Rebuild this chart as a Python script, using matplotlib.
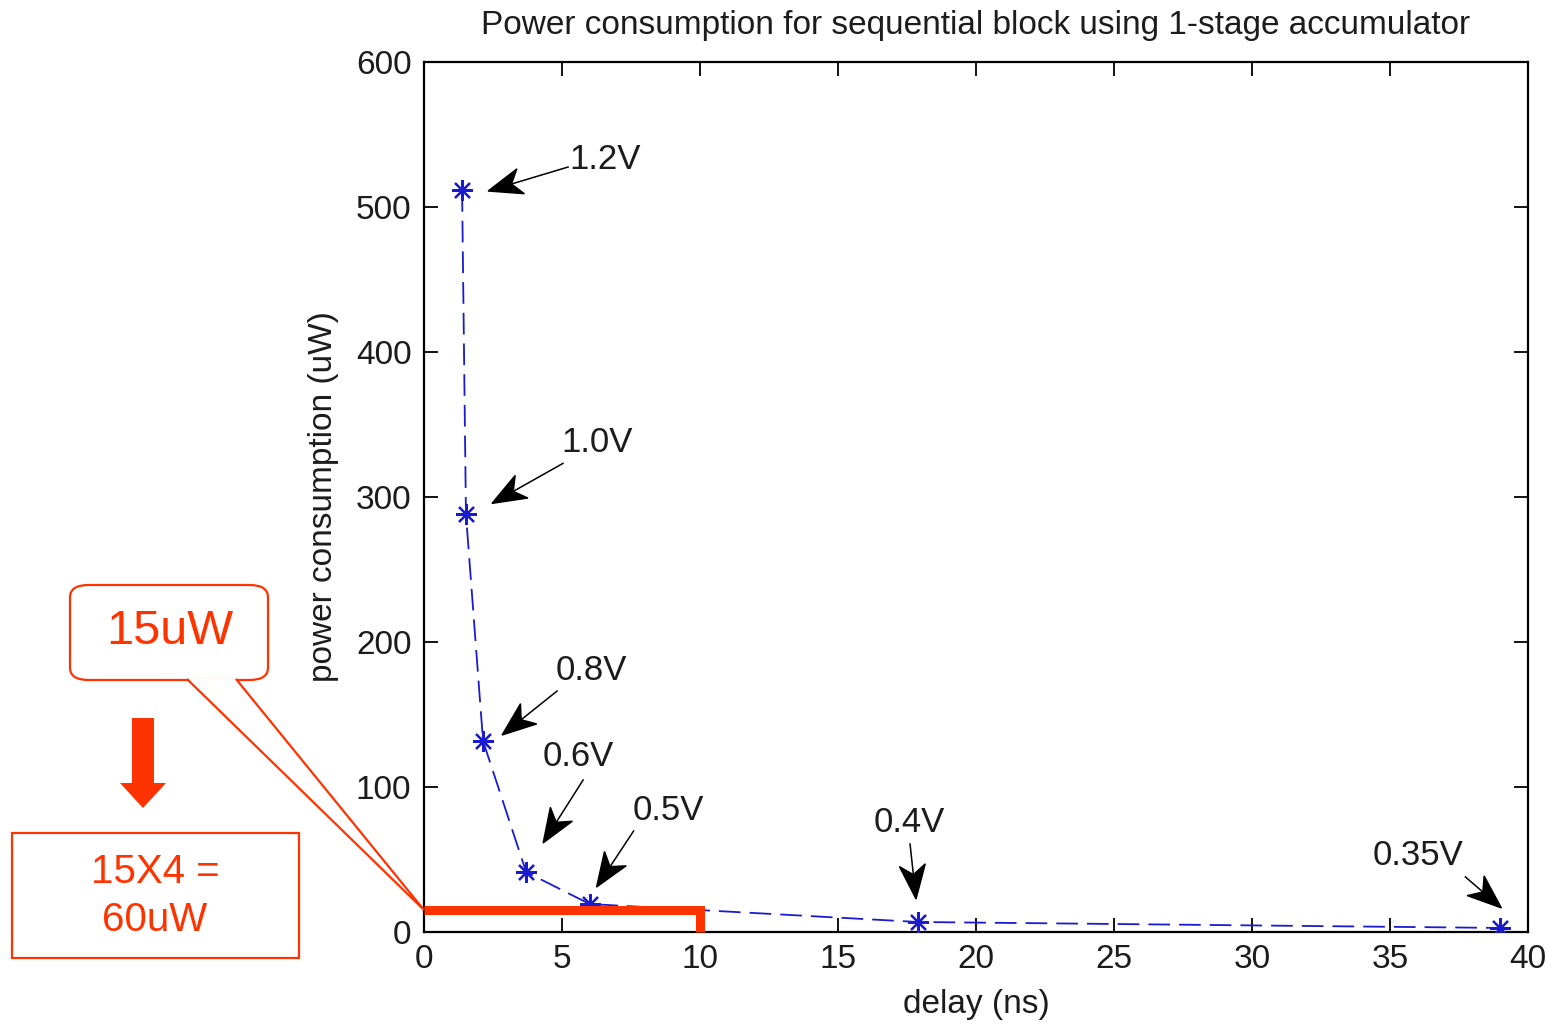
import matplotlib
matplotlib.use('Agg')
import numpy as np
import matplotlib.pyplot as plt
from matplotlib.patches import FancyBboxPatch, Rectangle, Polygon
from matplotlib.lines import Line2D

# data
delay = [1.38, 1.52, 2.14, 3.7, 6.0, 17.9, 39.0]      # ns
power = [511.7, 288.0, 131.7, 41.4, 19.3, 6.9, 2.8]     # uW
vdd_labels = ['1.2V', '1.0V', '0.8V', '0.6V', '0.5V', '0.4V', '0.35V']
xticks = [0, 5, 10, 15, 20, 25, 30, 35, 40]
yticks = [0, 100, 200, 300, 400, 500, 600]
budget_power = 15     # uW
budget_delay = 10     # ns

# arrow layout, pixel offsets from each point (y up): tip, tail, text centre
arrow_offsets = [
    ((26, -1), (106, 23), (143, 31)),
    ((26, 11), (97, 51), (131, 72)),
    ((19, 6), (74, 50), (108, 71)),
    ((17, 29), (57, 92), (52, 115)),
    ((7, 17), (44, 73), (79, 94)),
    ((-2, 23), (-8, 78), (-9, 99)),
    ((1, 20), (-35, 51), (-82, 72)),
]

W, H = 1548, 1025
fig = plt.figure(figsize=(W / 100, H / 100), dpi=100)
ax = fig.add_axes([424 / W, 1 - 932 / H, (1528 - 424) / W, (932 - 62) / H])

mfont = ['Liberation Sans', 'DejaVu Sans']
red = '#ff3300'
ink = '#1c1c1c'

ax.plot(delay, power, color='#1a1ad0', lw=1.3, dashes=(12, 5),
        marker=(8, 2, 0), ms=15, mew=1.6, zorder=3)

ax.set_xlim(0, 40)
ax.set_ylim(0, 600)

tf = fig.transFigure
to_fig = tf.inverted()

# arrows with notched heads, built in pixels then mapped to figure coords
for x, y, lab, (tip, tail, txt) in zip(delay, power, vdd_labels, arrow_offsets):
    px, py = ax.transData.transform((x, y))
    T = np.array([px + tip[0], py + tip[1]])
    S = np.array([px + tail[0], py + tail[1]])
    u = (T - S) / np.hypot(*(T - S))
    n = np.array([-u[1], u[0]])
    L, w = 34, 13
    notch = T - 0.72 * L * u
    head = [T, T - L * u + w * n, notch, T - L * u - w * n]
    fig.add_artist(Polygon(to_fig.transform(head), closed=True, transform=tf,
                           fc='black', ec='black', lw=1.0, zorder=4))
    seg = to_fig.transform([S, notch])
    fig.add_artist(Line2D(seg[:, 0], seg[:, 1], transform=tf, color='black', lw=1.1))
    tx, ty = to_fig.transform((px + txt[0], py + txt[1]))
    fig.text(tx, ty, lab, ha='center', va='center', fontsize=25,
             family=mfont, color=ink)

# 15uW budget line
ax.plot([0, budget_delay, budget_delay], [budget_power, budget_power, 0],
        color=red, lw=6.5, solid_joinstyle='miter', solid_capstyle='butt',
        clip_on=False, zorder=5)

ax.set_xticks(xticks)
ax.set_yticks(yticks)
ax.tick_params(direction='in', length=10, width=1.3, top=True, right=True,
               labelsize=24, pad=9)
for t in ax.get_xticklabels() + ax.get_yticklabels():
    t.set_family(mfont)
    t.set_color(ink)
for s in ax.spines.values():
    s.set_linewidth(1.6)
ax.set_title('Power consumption for sequential block using 1-stage accumulator',
             fontsize=24, family=mfont, pad=20, color=ink)
ax.set_xlabel('delay (ns)', fontsize=24, family=mfont, labelpad=10, color=ink)
ax.set_ylabel('power consumption (uW)', fontsize=24, family=mfont, labelpad=12, color=ink)

# red callouts, in figure pixels
def fp(x, y):
    return (x / W, 1 - y / H)

x0, y0 = fp(70, 680)
x1, y1 = fp(268, 585)
box1 = FancyBboxPatch((x0, y0), x1 - x0, y1 - y0,
                      boxstyle='round,pad=0,rounding_size=0.012',
                      transform=tf, fc='white', ec=red, lw=1.6, zorder=6)
fig.patches.append(box1)
ctip = fp(424, 910)
fig.patches.append(Polygon([fp(187, 679), ctip, fp(236, 679)], closed=False, transform=tf,
                           fill=False, ec=red, lw=1.6, zorder=7))
fig.patches.append(Polygon([fp(188, 678.5), ctip, fp(235, 678.5)], closed=True,
                           transform=tf, fc='white', ec='none', zorder=6.5))
fig.text(*fp(170, 631), '15uW', color=red, fontsize=35, ha='center', va='center',
         family=mfont, zorder=8)

# block arrow
fig.patches.append(Polygon([fp(132, 718), fp(154, 718), fp(154, 783), fp(166, 783),
                            fp(143, 808), fp(120, 783), fp(132, 783)],
                           closed=True, transform=tf, fc=red, ec='none'))

x0, y0 = fp(12, 958)
x1, y1 = fp(299, 833)
fig.patches.append(Rectangle((x0, y0), x1 - x0, y1 - y0, transform=tf,
                             fill=False, ec=red, lw=1.6))
fig.text(*fp(155, 872), '15X4 =', color=red, fontsize=29, ha='center', va='center',
         family=mfont)
fig.text(*fp(155, 920), '60uW', color=red, fontsize=29, ha='center', va='center',
         family=mfont)

fig.savefig('out.png', dpi=100)
